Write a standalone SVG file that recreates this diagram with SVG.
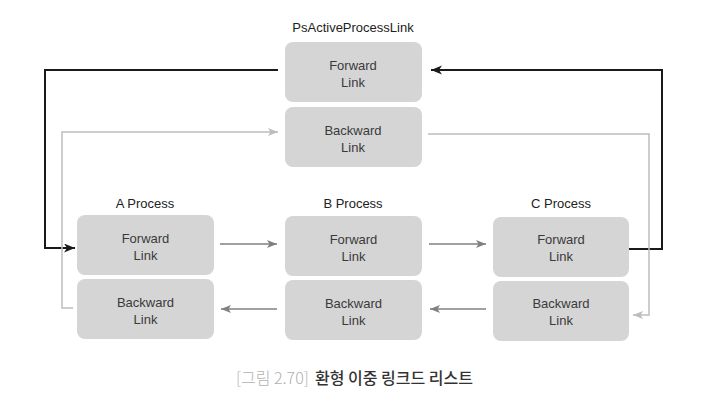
<svg xmlns="http://www.w3.org/2000/svg" width="726" height="405" viewBox="0 0 726 405">
<style>
.box{fill:#d5d5d5;}
.t{font-family:"Liberation Sans",Arial,sans-serif;font-size:13px;fill:#3a3a3a;text-anchor:middle;}
.lbl{font-family:"Liberation Sans",Arial,sans-serif;font-size:13px;fill:#222;text-anchor:middle;}
.blk{fill:none;stroke:#1a1a1a;stroke-width:2;}
.mid{fill:none;stroke:#808080;stroke-width:1.5;}
.lt{fill:none;stroke:#bdbdbd;stroke-width:1.5;}
.cap{font-family:"Noto Sans CJK KR","Noto Sans",sans-serif;font-size:16px;}
</style>
<defs>
<marker id="ahB" markerUnits="userSpaceOnUse" markerWidth="12" markerHeight="10" refX="11" refY="4.5" orient="auto">
<path d="M0,0 L11,4.5 L0,9 L3,4.5 z" fill="#1a1a1a"/>
</marker>
<marker id="ahM" markerUnits="userSpaceOnUse" markerWidth="12" markerHeight="10" refX="10" refY="4" orient="auto">
<path d="M0,0 L10,4 L0,8 L2.5,4 z" fill="#808080"/>
</marker>
<marker id="ahL" markerUnits="userSpaceOnUse" markerWidth="12" markerHeight="10" refX="10" refY="4" orient="auto">
<path d="M0,0 L10,4 L0,8 L2.5,4 z" fill="#bdbdbd"/>
</marker>
</defs>
<rect width="726" height="405" fill="#ffffff"/>

<g id="head">
<text class="lbl" x="353" y="32">PsActiveProcessLink</text>
<rect class="box" x="285" y="42" width="137" height="60" rx="8"/>
<text class="t" x="353" y="69.5">Forward</text>
<text class="t" x="353" y="86.5">Link</text>
<rect class="box" x="285" y="107" width="137" height="60" rx="8"/>
<text class="t" x="353" y="134.5">Backward</text>
<text class="t" x="353" y="151.5">Link</text>
</g>

<g id="procA">
<text class="lbl" x="145" y="207.5">A Process</text>
<rect class="box" x="77" y="215" width="137" height="60" rx="8"/>
<text class="t" x="145.5" y="242.5">Forward</text>
<text class="t" x="145.5" y="259.5">Link</text>
<rect class="box" x="77" y="279" width="137" height="60" rx="8"/>
<text class="t" x="145.5" y="306.5">Backward</text>
<text class="t" x="145.5" y="323.5">Link</text>
</g>

<g id="procB">
<text class="lbl" x="353" y="207.5">B Process</text>
<rect class="box" x="285" y="216" width="137" height="60" rx="8"/>
<text class="t" x="353.5" y="243.5">Forward</text>
<text class="t" x="353.5" y="260.5">Link</text>
<rect class="box" x="285" y="280" width="137" height="60" rx="8"/>
<text class="t" x="353.5" y="307.5">Backward</text>
<text class="t" x="353.5" y="324.5">Link</text>
</g>

<g id="procC">
<text class="lbl" x="561" y="208">C Process</text>
<rect class="box" x="493" y="217" width="136" height="60" rx="8"/>
<text class="t" x="561" y="244">Forward</text>
<text class="t" x="561" y="261">Link</text>
<rect class="box" x="493" y="281" width="136" height="60" rx="8"/>
<text class="t" x="561" y="308">Backward</text>
<text class="t" x="561" y="325">Link</text>
</g>

<g id="connectors">
<path class="blk" d="M278,70 H45 V248 H75" marker-end="url(#ahB)"/>
<path class="blk" d="M629,249 H662 V70 H431" marker-end="url(#ahB)"/>
<path class="lt" d="M73,308 H62 V132 H278" marker-end="url(#ahL)"/>
<path class="lt" d="M428,134 H649 V315 H633" marker-end="url(#ahL)"/>
<path class="mid" d="M220,244 H277" marker-end="url(#ahM)"/>
<path class="mid" d="M429,244 H486" marker-end="url(#ahM)"/>
<path class="mid" d="M277,309 H221" marker-end="url(#ahM)"/>
<path class="mid" d="M486,309 H430" marker-end="url(#ahM)"/>
</g>

<g id="caption">
<text class="cap" x="236" y="384" fill="#b0b0b0" font-weight="300">[그림 2.70]</text>
<text class="cap" x="315" y="384" fill="#333333" font-weight="500">환형 이중 링크드 리스트</text>
</g>
</svg>
